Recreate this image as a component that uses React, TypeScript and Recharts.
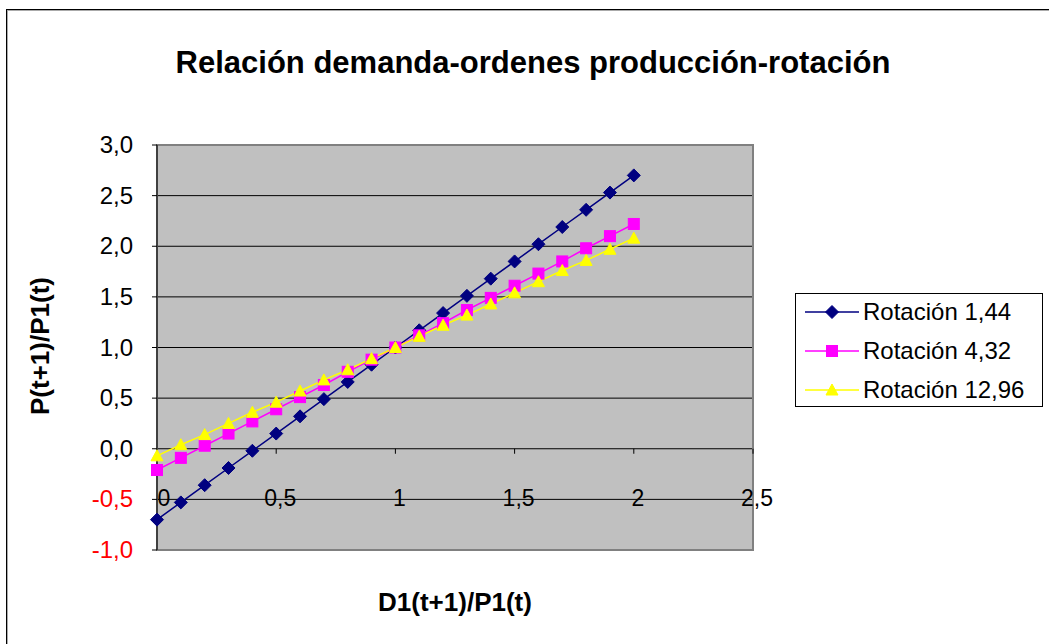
import React from "react";
import {
  CartesianGrid,
  Line,
  LineChart,
  ReferenceArea,
  XAxis,
  YAxis,
} from "recharts";

const xValues = [0, 0.1, 0.2, 0.3, 0.4, 0.5, 0.6, 0.7, 0.8, 0.9, 1, 1.1, 1.2, 1.3, 1.4, 1.5, 1.6, 1.7, 1.8, 1.9, 2];
const rot144 = [-0.7, -0.53, -0.36, -0.19, -0.02, 0.15, 0.32, 0.49, 0.66, 0.83, 1.0, 1.17, 1.34, 1.51, 1.68, 1.85, 2.02, 2.19, 2.36, 2.53, 2.7];
const rot432 = [-0.21, -0.09, 0.03, 0.15, 0.27, 0.39, 0.51, 0.63, 0.76, 0.88, 1.0, 1.12, 1.24, 1.37, 1.49, 1.61, 1.73, 1.85, 1.98, 2.1, 2.22];
const rot1296 = [-0.07, 0.04, 0.14, 0.25, 0.36, 0.46, 0.57, 0.68, 0.78, 0.89, 1.0, 1.11, 1.22, 1.32, 1.43, 1.54, 1.65, 1.76, 1.86, 1.97, 2.08];

const xTicks = [0, 0.5, 1, 1.5, 2, 2.5];
const yTicks = [-1, -0.5, 0, 0.5, 1, 1.5, 2, 2.5, 3];

const series = [
  { key: "r144", name: "Rotación 1,44", values: rot144, color: "#000080", shape: "diamond" },
  { key: "r432", name: "Rotación 4,32", values: rot432, color: "#FF00FF", shape: "square" },
  { key: "r1296", name: "Rotación 12,96", values: rot1296, color: "#FFFF00", shape: "triangle" },
];

const data = xValues.map((x, i) => {
  const row: Record<string, number> = { x };
  series.forEach((s) => (row[s.key] = s.values[i]));
  return row;
});

const W = 1049;
const H = 644;
const MARGIN = { top: 145, right: 296, bottom: 93, left: 97 };
const X_AXIS_H = 1;
const PLOT_H = H - MARGIN.top - MARGIN.bottom - X_AXIS_H;
const Y_MIN = -1;
const Y_MAX = 3;
const FONT = '"Liberation Sans", Arial, sans-serif';

const comma = (v: number, digits?: number) =>
  (digits === undefined ? String(v) : v.toFixed(digits)).replace(".", ",");

function Marker({ cx, cy, shape, color }: any) {
  if (cx == null || cy == null) return null;
  if (shape === "diamond") {
    const r = 6.5;
    return <polygon points={`${cx},${cy - r} ${cx + r},${cy} ${cx},${cy + r} ${cx - r},${cy}`} fill={color} stroke={color} />;
  }
  if (shape === "square") {
    const r = 5.5;
    return <rect x={cx - r} y={cy - r} width={r * 2} height={r * 2} fill={color} stroke={color} />;
  }
  const r = 6;
  return <polygon points={`${cx},${cy - r} ${cx + r},${cy + r - 1} ${cx - r},${cy + r - 1}`} fill={color} stroke={color} />;
}

const YTick = ({ x, y, payload }: any) => (
  <text x={x} y={y} dy={8} textAnchor="end" fontSize={24} fontFamily={FONT}
    fill={payload.value < 0 ? "#FF0000" : "#000"}>
    {comma(payload.value, 1)}
  </text>
);

// the x axis crosses at y = 0, so each tick is lifted from the plot bottom to that line
const XTick = ({ x, y, payload }: any) => {
  const zeroY = y - (PLOT_H * (0 - Y_MIN)) / (Y_MAX - Y_MIN);
  return (
    <g>
      {payload.value > 0 && <line x1={x} x2={x} y1={zeroY} y2={zeroY + 5} stroke="#000" />}
      <text x={payload.value === 0 ? x + 7 : x + 4} y={zeroY + 57} textAnchor="middle" fontSize={23} fontFamily={FONT} fill="#000">
        {comma(payload.value)}
      </text>
    </g>
  );
};

export default function App() {
  return (
    <div style={{ position: "absolute", left: 0, top: 0, width: W, height: H, background: "#fff", overflow: "hidden", fontFamily: FONT }}>
      <div style={{ position: "absolute", left: 6, top: 9, width: W + 20, height: H + 20, border: "1.5px solid #000", boxShadow: "1px 1px 0 #aaa inset" }} />
      <div style={{ position: "absolute", left: 0, width: 1066, top: 43, textAlign: "center", fontSize: 31, fontWeight: "bold", lineHeight: "40px" }}>
        Relación demanda-ordenes producción-rotación
      </div>
      <div style={{ position: "absolute", left: 157, width: 596, top: 586, textAlign: "center", fontSize: 26, fontWeight: "bold", lineHeight: "32px" }}>
        D1(t+1)/P1(t)
      </div>
      <div style={{ position: "absolute", left: 40, top: 346, transform: "translate(-50%, -50%) rotate(-90deg)", whiteSpace: "nowrap", fontSize: 26, fontWeight: "bold", lineHeight: "32px" }}>
        P(t+1)/P1(t)
      </div>

      <div style={{ position: "absolute", left: 0, top: 0 }}>
        <LineChart width={W} height={H} data={data} margin={MARGIN}>
          <CartesianGrid vertical={false} stroke="#000" fill="#C0C0C0" fillOpacity={1} />
          <ReferenceArea x1={0} x2={2.5} y1={Y_MIN} y2={Y_MAX} fill="none" stroke="#808080" strokeWidth={2} ifOverflow="visible" />
          <XAxis
            dataKey="x"
            type="number"
            domain={[0, 2.5]}
            ticks={xTicks}
            axisLine={false}
            tickLine={false}
            tickSize={0}
            tickMargin={0}
            height={X_AXIS_H}
            tick={<XTick />}
            interval={0}
          />
          <YAxis
            type="number"
            domain={[Y_MIN, Y_MAX]}
            ticks={yTicks}
            width={60}
            axisLine={{ stroke: "#000" }}
            tickLine={{ stroke: "#000" }}
            tickSize={5}
            tickMargin={19}
            tick={<YTick />}
            interval={0}
          />
          {series.map((s) => (
            <Line
              key={s.key}
              dataKey={s.key}
              name={s.name}
              type="linear"
              stroke={s.color}
              strokeWidth={1.5}
              isAnimationActive={false}
              dot={(p: any) => <Marker key={`${s.key}-${p.index}`} cx={p.cx} cy={p.cy} shape={s.shape} color={s.color} />}
              activeDot={false}
            />
          ))}
        </LineChart>
      </div>

      <div style={{ position: "absolute", left: 795, top: 293, width: 248, height: 114, border: "1px solid #000", background: "#fff", boxSizing: "border-box" }}>
        {series.map((s, i) => (
          <div key={s.key} style={{ position: "absolute", left: 9, top: 2 + i * 39, height: 32, display: "flex", alignItems: "center" }}>
            <svg width={54} height={16}>
              <line x1={0} x2={54} y1={8} y2={8} stroke={s.color} strokeWidth={1.5} />
              <Marker cx={27} cy={8} shape={s.shape} color={s.color} />
            </svg>
            <span style={{ marginLeft: 4, fontSize: 24, color: "#000", whiteSpace: "nowrap" }}>{s.name}</span>
          </div>
        ))}
      </div>
    </div>
  );
}
